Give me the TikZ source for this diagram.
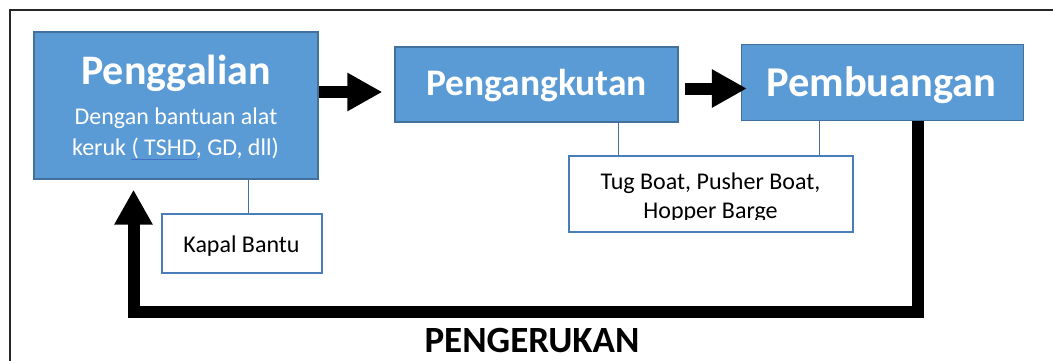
\documentclass[tikz,border=0pt]{standalone}
\usepackage{fontspec}
\setmainfont{Carlito}
\usetikzlibrary{arrows.meta}

\definecolor{boxfill}{HTML}{5B9BD5}
\definecolor{boxedge}{HTML}{41719C}
\definecolor{noteedge}{HTML}{4A7EBB}
\definecolor{framegray}{HTML}{262626}
\definecolor{spellblue}{HTML}{4472C4}

\tikzset{
  procbox/.style={draw=boxedge, fill=boxfill, line width=1.3pt, inner sep=0pt},
  notebox/.style={draw=noteedge, fill=white, line width=1.3pt, inner sep=0pt},
  titletext/.style={text=white, font=\bfseries, anchor=base, inner sep=0pt},
  subtext/.style={text=white, anchor=base, inner sep=0pt, font=\fontsize{24}{30}\selectfont},
  notetext/.style={text=black, anchor=base, inner sep=0pt, font=\fontsize{24}{28}\selectfont},
  thinlink/.style={draw=boxedge, line width=1pt},
  flowarrow/.style={line width=12pt, -{Triangle[length=35pt,width=36pt]}},
  returnarrow/.style={line width=12pt, line join=miter, -{Triangle[length=35pt,width=36pt]}},
}

\begin{document}
\begin{tikzpicture}[x=1pt, y=-1pt]
  \useasboundingbox (0,0) rectangle (1053,360);
  \clip (0,0) rectangle (1053,360);
  \fill[white] (0,0) rectangle (1053,360);

  % page frame (only the top and left edges fall inside the view)
  \draw[framegray, line width=1.6pt] (10,380) -- (10,10) -- (1080,10);

  % main process boxes
  \node[procbox, minimum width=284pt, minimum height=147pt] (gali) at (176,105.5) {};
  \node[procbox, minimum width=283pt, minimum height=75pt] (angkut) at (536.5,84.5) {};
  \node[procbox, minimum width=282pt, minimum height=76pt] (buang) at (882.5,82.5) {};

  % titles and description
  \node[titletext, font=\fontsize{42}{50}\selectfont\bfseries] (galititle) at (176,84) {Penggalian};
  \node[subtext] (galisub1) at (176,124) {Dengan bantuan alat};
  \node[subtext] (galisub2) at (175.5,155) {keruk ( TSHD, GD, dll)};
  \draw[spellblue, line width=0.8pt] (131,159) -- (197,159);
  \node[titletext, font=\fontsize{37.5}{45}\selectfont\bfseries] (angkuttitle) at (536.5,95) {Pengangkutan};
  \node[titletext, font=\fontsize{42.5}{51}\selectfont\bfseries] (buangtitle) at (881.5,96) {Pembuangan};

  % supporting vessel boxes
  \node[notebox, minimum width=160pt, minimum height=59pt] (kapal) at (242,243.5) {};
  \node[notetext] (kapaltext) at (241.5,252) {Kapal Bantu};
  \node[notebox, minimum width=284pt, minimum height=76pt] (tug) at (711,194) {};
  \begin{scope}
    \clip (569,156) rectangle (853,219.5);
    \node[notetext] (tugtext1) at (710.5,189) {Tug Boat, Pusher Boat,};
    \node[notetext] (tugtext2) at (710.5,218.5) {Hopper Barge};
  \end{scope}

  % thin links to the supporting boxes
  \coordinate (kapaltop) at (248,0);
  \coordinate (tugleft) at (618,0);
  \coordinate (tugright) at (819,0);
  \draw[thinlink] (gali.south -| kapaltop) -- (kapal.north -| kapaltop);
  \draw[thinlink] (angkut.south -| tugleft) -- (tug.north -| tugleft);
  \draw[thinlink] (buang.south -| tugright) -- (tug.north -| tugright);

  % flow arrows
  \coordinate (arrowone) at (0,92);
  \coordinate (arrowtwo) at (0,88.5);
  \draw[flowarrow] (gali.east |- arrowone) -- ([xshift=-12pt]angkut.west |- arrowone);
  \draw[flowarrow] ([xshift=6pt]angkut.east |- arrowtwo) -- ([xshift=6pt]buang.west |- arrowtwo);

  % return path from disposal back to excavation
  \coordinate (returnright) at (918,0);
  \coordinate (returnleft) at (133.5,0);
  \coordinate (returnbottom) at (0,311.5);
  \draw[returnarrow] (buang.south -| returnright) -- (returnright |- returnbottom)
        -- (returnleft |- returnbottom) -- ([yshift=-10pt]gali.south -| returnleft);

  \node[anchor=base, inner sep=0pt, font=\fontsize{37}{44}\selectfont\bfseries] (keruk) at (532,352) {PENGERUKAN};
\end{tikzpicture}
\end{document}
